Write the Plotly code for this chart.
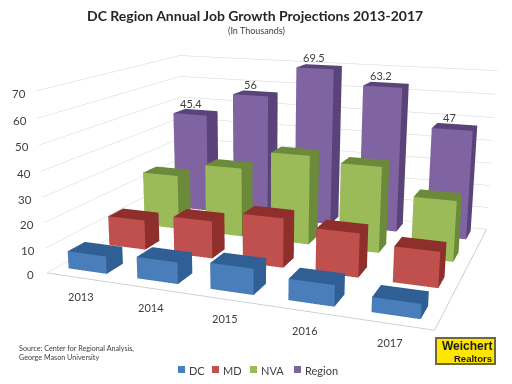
import plotly.graph_objects as go

years = ["2013", "2014", "2015", "2016", "2017"]
series = ["DC", "MD", "NVA", "Region"]
dc = [7, 8.5, 10, 8, 5.5]
md = [12.5, 15.5, 20, 17.5, 14]
nva = [24, 30, 38, 36, 25]
region = [45.4, 56, 69.5, 63.2, 47]
values = [dc, md, nva, region]
front_colors = ["#4A7EBB", "#C0504D", "#9BBB59", "#8064A2"]
dark_colors = ["#2F5F94", "#8E2F2C", "#6B8A3A", "#5A4379"]
z_ticks = [0, 10, 20, 30, 40, 50, 60, 70]
title = "DC Region Annual Job Growth Projections 2013-2017"
subtitle = "(In Thousands)"
source = "Source: Center for Regional Analysis,<br>George Mason University"

BW, BD = 0.57, 0.42
XC, YC = 0.45, 0.46
XSTEP, YSTEP = 1.015, 1.05
FONT = "Lato"
W, H = 1024, 768
OX, OY = 256, 192


def px(x):
    return (x + OX) / W


def py(y):
    return 1 - (y + OY) / H


def box(i, j, v):
    cx, cy = i * XSTEP + XC, j * YSTEP + YC
    x0, x1 = cx - BW / 2, cx + BW / 2
    y0, y1 = cy - BD / 2, cy + BD / 2
    xs = [x0, x1, x1, x0, x0, x1, x1, x0]
    ys = [y0, y0, y1, y1, y0, y0, y1, y1]
    zs = [0, 0, 0, 0, v, v, v, v]
    tris = [(0, 1, 5), (0, 5, 4), (4, 5, 6), (4, 6, 7), (1, 2, 6), (1, 6, 5),
            (0, 3, 7), (0, 7, 4), (3, 2, 6), (3, 6, 7)]
    return xs, ys, zs, tris


fig = go.Figure()
flat = dict(ambient=1, diffuse=0, specular=0, roughness=1, fresnel=0)
for j in range(3, -1, -1):
    X, Y, Z, I, K, L, FC = [], [], [], [], [], [], []
    for i, v in enumerate(values[j]):
        xs, ys, zs, tris = box(i, j, v)
        b = len(X)
        X += xs
        Y += ys
        Z += zs
        for n, t in enumerate(tris):
            I.append(t[0] + b)
            K.append(t[1] + b)
            L.append(t[2] + b)
            FC.append(front_colors[j] if n < 2 else dark_colors[j])
    fig.add_trace(go.Mesh3d(x=X, y=Y, z=Z, i=I, j=K, k=L, facecolor=FC, flatshading=True,
                            lighting=flat, name=series[j], showlegend=False, hoverinfo="skip"))

nx, ny = len(years), len(series)
fig.add_trace(go.Scatter3d(x=[0, nx, nx], y=[0, 0, ny], z=[0, 0, 0], mode="lines",
                           line=dict(color="#c4c4c4", width=1.5), showlegend=False, hoverinfo="skip"))

ann = []
for i, y in enumerate(years):
    ann.append(dict(x=i + 0.5, y=0, z=0, text=y, showarrow=False, yshift=-19, xshift=0,
                    font=dict(family=FONT, size=11, color="#404040")))
for t in z_ticks:
    ann.append(dict(x=0, y=0, z=t, text=str(t), showarrow=False, xshift=-17, yshift=-2,
                    font=dict(family=FONT, size=11.5, color="#404040")))
for i, v in enumerate(region):
    ann.append(dict(x=i * XSTEP + XC, y=3 * YSTEP + YC, z=v, text=str(v), showarrow=False, yshift=9, xshift=-5,
                    font=dict(family=FONT, size=11, color="#404040")))

hidden = dict(showgrid=False, showticklabels=False, showline=False, zeroline=False, showbackground=False,
              title="", ticks="", showspikes=False)
fig.update_layout(
    width=W, height=H, autosize=False, margin=dict(l=0, r=0, t=0, b=0),
    paper_bgcolor="white", showlegend=False,
    scene=dict(
        domain=dict(x=[0, 1], y=[0, 1]),
        aspectmode="manual", aspectratio=dict(x=1, y=0.799, z=0.4716),
        camera=dict(eye=dict(x=0.827, y=-2.299, z=0.584), center=dict(x=-0.0616, y=-0.043, z=-0.0657),
                    up=dict(x=0, y=0, z=1)),
        xaxis=dict(hidden, range=[0, nx], tickvals=[]),
        yaxis=dict(hidden, range=[0, ny], tickvals=[]),
        zaxis=dict(showgrid=True, gridcolor="#d4d4d4", gridwidth=1, range=[0, 70], tickvals=z_ticks,
                   showticklabels=False, showline=False, zeroline=False, showbackground=False,
                   title="", ticks="", showspikes=False),
        annotations=ann,
    ),
)

fig.add_annotation(x=px(255), y=py(15), xref="paper", yref="paper", text=f"<b>{title}</b>", showarrow=False,
                   yanchor="middle", font=dict(family=FONT, size=14, color="#262626"))
fig.add_annotation(x=px(256), y=py(30), xref="paper", yref="paper", text=subtitle, showarrow=False,
                   yanchor="middle", font=dict(family=FONT, size=9, color="#404040"))
fig.add_annotation(x=px(17), y=py(353), xref="paper", yref="paper", text=source, showarrow=False, align="left",
                   xanchor="left", yanchor="middle", font=dict(family=FONT, size=7.2, color="#404040"))

# legend
lx = [178, 212, 250, 294]
for name, col, x in zip(series, front_colors, lx):
    fig.add_shape(type="rect", xref="paper", yref="paper", x0=px(x), x1=px(x + 7), y0=py(373), y1=py(366),
                  fillcolor=col, line=dict(width=0))
    fig.add_annotation(x=px(x + 9), y=py(370), xref="paper", yref="paper", text=name, showarrow=False,
                       xanchor="left", yanchor="middle", font=dict(family=FONT, size=11, color="#404040"))

# logo
fig.add_shape(type="rect", xref="paper", yref="paper", x0=px(436), x1=px(495), y0=py(364), y1=py(338),
              fillcolor="#FFE600", line=dict(color="#6b6b3a", width=2))
fig.add_annotation(x=px(494), y=py(346), xref="paper", yref="paper", text="<b>Weichert</b>", showarrow=False,
                   xanchor="right", yanchor="middle", font=dict(family="Liberation Sans", size=12, color="#1a1a1a"))
fig.add_annotation(x=px(494), y=py(358), xref="paper", yref="paper", text="<b>Realtors</b>", showarrow=False,
                   xanchor="right", yanchor="middle", font=dict(family="Liberation Sans", size=9.5, color="#1a1a1a"))

post = ("var gd=document.getElementById('{plot_id}');document.documentElement.style.overflow='hidden';"
        "document.body.style.margin='0';document.body.style.overflow='hidden';"
        "gd.style.position='absolute';gd.style.left='-256px';gd.style.top='-192px';")
fig.write_html("out.html", post_script=post, config=dict(displayModeBar=False))
